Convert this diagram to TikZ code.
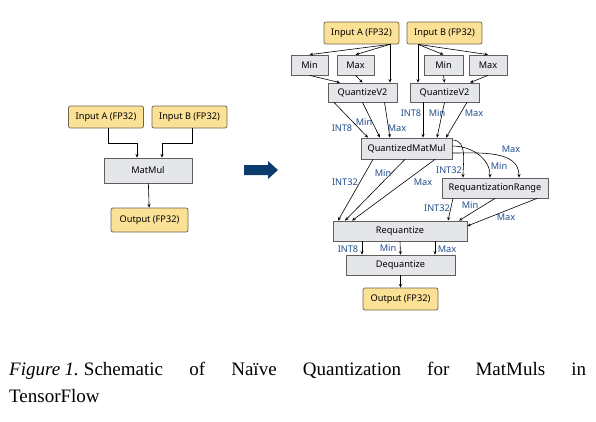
\documentclass[tikz,border=0pt]{standalone}
\usepackage{fontspec}
\setmainfont{Liberation Serif}
\newfontfamily\diagfont{Noto Sans}
\usetikzlibrary{arrows.meta}

\definecolor{inputfill}{RGB}{251,225,150}
\definecolor{inputdraw}{RGB}{110,100,80}
\definecolor{opfill}{RGB}{228,230,233}
\definecolor{opdraw}{RGB}{95,95,95}
\definecolor{lblblue}{RGB}{31,78,140}
\definecolor{bigarrow}{RGB}{12,60,110}

\tikzset{
  inbox/.style={draw=inputdraw,fill=inputfill,rounded corners=2pt,line width=0.7pt,
    minimum width=75pt,minimum height=22pt,inner sep=0pt,
    font=\diagfont\fontsize{9.2}{10}\selectfont},
  opbox/.style={draw=opdraw,fill=opfill,line width=0.7pt,minimum height=20pt,inner sep=0pt,
    font=\diagfont\fontsize{9.2}{10}\selectfont},
  lbl/.style={text=lblblue,inner sep=0pt,font=\diagfont\fontsize{9.2}{10}\selectfont},
  conn/.style={-{Stealth[length=3.6pt,width=3pt]},line width=0.6pt}
}

\begin{document}
\begin{tikzpicture}[x=1pt,y=-1pt]

\useasboundingbox (0,0) rectangle (596,421);

% plain MatMul
\node [inbox] (inA) at (106,117) {Input A (FP32)};
\node [inbox] (inB) at (189.5,117) {Input B (FP32)};
\node [opbox,minimum width=88pt,minimum height=25pt] (matmul) at (148,170.5) {MatMul};
\node [inbox,minimum width=77pt,minimum height=24pt] (out) at (149.5,220) {Output (FP32)};

\draw [conn] ([xshift=2pt]inA.south) |- (137,143) -- ([xshift=-11pt]matmul.north);
\draw [conn] ([xshift=2.5pt]inB.south) |- (162,143) -- ([xshift=14pt]matmul.north);
\draw [conn] (matmul) -- (out);

% big arrow
\fill [bigarrow] (244,165) -- (268,165) -- (268,161) -- (278,170) -- (268,179)
  -- (268,175) -- (244,175) -- cycle;

% quantized MatMul
\node [inbox] (qinA) at (361.5,33) {Input A (FP32)};
\node [inbox] (qinB) at (444.5,33) {Input B (FP32)};
\node [opbox,minimum width=37pt] (minA) at (309.5,65) {Min};
\node [opbox,minimum width=37pt] (maxA) at (355.5,65) {Max};
\node [opbox,minimum width=39pt] (minB) at (443.5,65) {Min};
\node [opbox,minimum width=38pt] (maxB) at (488,65) {Max};
\node [opbox,minimum width=69pt,minimum height=19pt] (qvA) at (362.5,92.5) {QuantizeV2};
\node [opbox,minimum width=69pt,minimum height=19pt] (qvB) at (444.5,92.5) {QuantizeV2};
\node [opbox,minimum width=91pt,minimum height=21pt] (qmm) at (406.5,148.5) {QuantizedMatMul};
\node [opbox,minimum width=106pt] (rr) at (495,188) {RequantizationRange};
\node [opbox,minimum width=134pt] (req) at (400,231) {Requantize};
\node [opbox,minimum width=109pt] (deq) at (400.5,265) {Dequantize};
\node [inbox,minimum width=75pt] (qout) at (400.5,299) {Output (FP32)};

\draw [conn] ([xshift=28.5pt]qinA.south) -- (minA.north);
\draw [conn] ([xshift=28.5pt]qinA.south) -- (maxA.north);
\draw [conn] ([xshift=28.5pt]qinA.south) -- ([xshift=27.5pt]qvA.north);
\draw [conn] ([xshift=-26.5pt]qinB.south) -- ([xshift=-26.5pt]qvB.north);
\draw [conn] ([xshift=-26.5pt]qinB.south) -- (minB.north);
\draw [conn] ([xshift=-26.5pt]qinB.south) -- (maxB.north);

\draw [conn] (minA.south) -- ([xshift=-22.5pt]qvA.north);
\draw [conn] (maxA.south) -- (qvA.north);
\draw [conn] (minB.south) -- (qvB.north);
\draw [conn] (maxB.south) -- ([xshift=25.5pt]qvB.north);

\draw [conn] ([xshift=-28.5pt]qvA.south) -- ([xshift=-38.5pt]qmm.north);
\draw [conn] (qvA.south) -- ([xshift=-26.5pt]qmm.north);
\draw [conn] ([xshift=22pt]qvA.south) -- ([xshift=-16.5pt]qmm.north);
\draw [conn] ([xshift=-21.5pt]qvB.south) -- ([xshift=16.5pt]qmm.north);
\draw [conn] (qvB.south) -- ([xshift=30.5pt]qmm.north);
\draw [conn] ([xshift=22.5pt]qvB.south) -- ([xshift=39.5pt]qmm.north);
\node [lbl] (lA1) at (342,128) {INT8};
\node [lbl] (lA2) at (364,122) {Min};
\node [lbl] (lA3) at (397,128) {Max};
\node [lbl] (lB1) at (411,113) {INT8};
\node [lbl] (lB2) at (437,113) {Min};
\node [lbl] (lB3) at (474,113) {Max};

\draw [conn] ([yshift=8.5pt]qmm.east) to[out=0,in=90] ([xshift=-32pt]rr.north);
\draw [conn] ([yshift=2.5pt]qmm.east) to[out=0,in=90] ([xshift=-5pt]rr.north);
\draw [conn] ([yshift=-4.5pt]qmm.east) to[out=0,in=90] ([xshift=24pt]rr.north);
\node [lbl] (lR1) at (449,170) {INT32};
\node [lbl] (lR2) at (499,166) {Min};
\node [lbl] (lR3) at (511,149) {Max};

\draw [conn] ([xshift=-33.5pt]qmm.south) -- ([xshift=-62pt]req.north);
\draw [conn] ([xshift=-1.5pt]qmm.south) -- ([xshift=-55pt]req.north);
\draw [conn] ([xshift=28.5pt]qmm.south) -- ([xshift=-48pt]req.north);
\node [lbl] (lM1) at (345,182) {INT32};
\node [lbl] (lM2) at (383,173) {Min};
\node [lbl] (lM3) at (423,182) {Max};

\draw [conn] ([xshift=-42pt]rr.south) -- ([xshift=48pt]req.north);
\draw [conn] (rr.south) -- ([xshift=59pt]req.north);
\draw [conn] ([xshift=42pt]rr.south) -- ([yshift=5pt]req.east);
\node [lbl] (lQ1) at (437,208) {INT32};
\node [lbl] (lQ2) at (470,205) {Min};
\node [lbl] (lQ3) at (506,217) {Max};

\draw [conn] ([xshift=-38pt]req.south) -- ([xshift=-38.5pt]deq.north);
\draw [conn] (req.south) -- (deq.north);
\draw [conn] ([xshift=35pt]req.south) -- ([xshift=34.5pt]deq.north);
\node [lbl] (lD1) at (348,249) {INT8};
\node [lbl] (lD2) at (388,248) {Min};
\node [lbl] (lD3) at (447,249) {Max};

\draw [conn] (deq) -- (qout);

% caption
\node [anchor=north west,text width=577pt,align=justify,inner sep=0pt,
  font=\fontsize{19}{27}\selectfont] (caption) at (9,362)
  {\textit{Figure\hspace{4.5pt}1.}\hspace{5pt}Schematic of Naïve Quantization for MatMuls in\linebreak TensorFlow};

\end{tikzpicture}
\end{document}
